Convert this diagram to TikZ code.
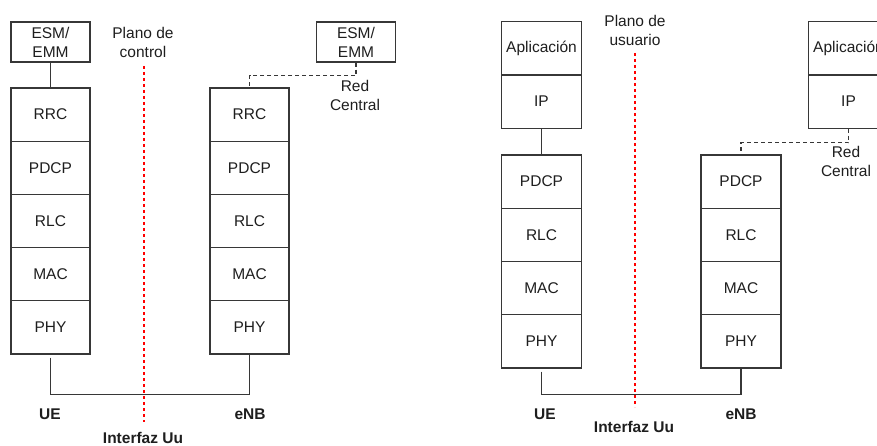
\documentclass[tikz,border=0pt]{standalone}
\usepackage{fontspec}
\setmainfont{Liberation Sans}
\definecolor{linec}{RGB}{55,55,55}
\definecolor{txtc}{RGB}{30,30,30}
\begin{document}
\begin{tikzpicture}[x=1pt,y=-1pt,
  cell/.style={draw=linec, line width=1.1pt, minimum width=79pt, minimum height=53.2pt, inner sep=0pt, text=txtc, font=\fontsize{15.5}{19}\selectfont, align=center},
  cellr/.style={cell, minimum width=80pt, minimum height=53.25pt},
  conn/.style={draw=linec, line width=1.1pt},
  dconn/.style={conn, dash pattern=on 4pt off 3pt},
  iface/.style={draw=red, line width=1.2pt, dash pattern=on 3pt off 3pt},
  lbl/.style={text=txtc, font=\fontsize{15.5}{19}\selectfont, align=center, inner sep=0pt},
  blbl/.style={lbl, font=\fontsize{15.5}{19}\selectfont\bfseries}]
\useasboundingbox (0,0) rectangle (877,446);
\clip (0,0) rectangle (877,446);
% ---------- Control plane ----------
\node[cell, minimum height=40pt] (esmU) at (50.5,42) {ESM/\\EMM};
\node[cell] (rrcU) at (50.5,114.6) {RRC};
\node[cell] (pdcpU) at (50.5,167.8) {PDCP};
\node[cell] (rlcU) at (50.5,221) {RLC};
\node[cell] (macU) at (50.5,274.2) {MAC};
\node[cell] (phyU) at (50.5,327.4) {PHY};
\node[cell, minimum height=40pt] (esmE) at (356,42) {ESM/\\EMM};
\node[cell] (rrcE) at (249.5,114.6) {RRC};
\node[cell] (pdcpE) at (249.5,167.8) {PDCP};
\node[cell] (rlcE) at (249.5,221) {RLC};
\node[cell] (macE) at (249.5,274.2) {MAC};
\node[cell] (phyE) at (249.5,327.4) {PHY};
\draw[conn] (esmU.south) -- (rrcU.north);
\draw[dconn] (esmE.south) -- ++(0,13) -| (rrcE.north);
\draw[conn, shorten <=3pt] (phyU.south) -- ++(0,40) -| (phyE.south);
\coordinate (cpT) at (144,66);
\coordinate (cpB) at (144,422);
\draw[iface] (cpT) -- (cpB);
\node[lbl] (cpl) at (143,42) {Plano de\\control};
\node[lbl] (rc1) at (355,95) {Red\\Central};
\node[blbl] (ue1) at (50,414) {UE};
\node[blbl] (enb1) at (250,414) {eNB};
\node[blbl] (uu1) at (143,438) {Interfaz Uu};
% ---------- User plane ----------
\node[cellr] (appU) at (541.5,48.5) {Aplicación};
\node[cellr] (ipU) at (541.5,101.5) {IP};
\node[cellr] (pdcpU2) at (541.5,181.6) {PDCP};
\node[cellr] (rlcU2) at (541.5,234.9) {RLC};
\node[cellr] (macU2) at (541.5,288.1) {MAC};
\node[cellr] (phyU2) at (541.5,341.4) {PHY};
\node[cellr] (appE) at (848.5,48.5) {Aplicación};
\node[cellr] (ipE) at (848.5,101.5) {IP};
\node[cellr] (pdcpE2) at (741,181.6) {PDCP};
\node[cellr] (rlcE2) at (741,234.9) {RLC};
\node[cellr] (macE2) at (741,288.1) {MAC};
\node[cellr] (phyE2) at (741,341.4) {PHY};
\draw[conn] (ipU.south) -- (pdcpU2.north);
\draw[dconn] (ipE.south) -- ++(0,14) -| (pdcpE2.north);
\draw[conn, shorten <=3pt] (phyU2.south) -- ++(0,26) -| (phyE2.south);
\coordinate (upT) at (635,53);
\coordinate (upB) at (635,407);
\draw[iface] (upT) -- (upB);
\node[lbl] (upl) at (635,30) {Plano de\\usuario};
\node[lbl] (rc2) at (846,161) {Red\\Central};
\node[blbl] (ue2) at (545,414) {UE};
\node[blbl] (enb2) at (741,414) {eNB};
\node[blbl] (uu2) at (634,427) {Interfaz Uu};
\end{tikzpicture}
\end{document}
